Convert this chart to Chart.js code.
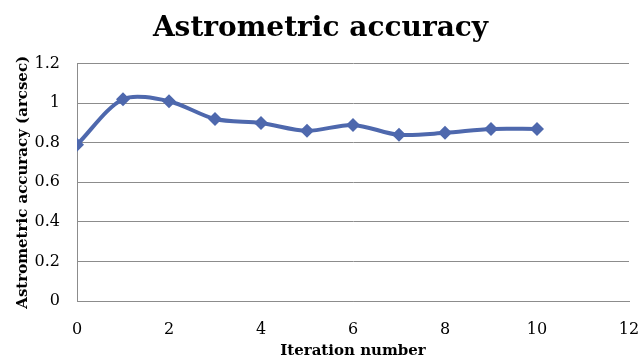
<!DOCTYPE html>
<html>
<head>
<meta charset="utf-8">
<script src="https://cdn.jsdelivr.net/npm/chart.js@4"></script>
<style>
  html, body { margin: 0; padding: 0; background: #fff; }
  #wrap { width: 641px; height: 360px; }
</style>
</head>
<body>
<div id="wrap"><canvas id="chart" width="641" height="360"></canvas></div>
<script>
// chart data
const iterations = [0, 1, 2, 3, 4, 5, 6, 7, 8, 9, 10];
const accuracy = [0.79, 1.02, 1.01, 0.92, 0.90, 0.86, 0.89, 0.84, 0.85, 0.87, 0.87];
const chartTitle = 'Astrometric accuracy';
const xTitle = 'Iteration number';
const yTitle = 'Astrometric accuracy (arcsec)';

const serif = '"DejaVu Serif", "Liberation Serif", serif';
const lineColor = '#4e68ad';
const gridColor = '#8c8c8c';

const ctx = document.getElementById('chart').getContext('2d');
new Chart(ctx, {
    type: 'scatter',
    data: {
        datasets: [{
            label: 'accuracy',
            data: iterations.map((x, i) => ({ x: x, y: accuracy[i] })),
            showLine: true,
            borderColor: lineColor,
            backgroundColor: lineColor,
            borderWidth: 4,
            tension: 0.3,
            pointStyle: 'rectRot',
            pointRadius: 7,
            pointHoverRadius: 7,
            pointBorderWidth: 0
        }]
    },
    options: {
        responsive: false,
        animation: false,
        layout: { padding: { left: 0, right: 0, top: 0, bottom: 0 } },
        plugins: {
            legend: { display: false },
            tooltip: { enabled: false },
            title: {
                display: true,
                text: chartTitle,
                color: '#000',
                font: { family: serif, size: 28, weight: 'bold' },
                padding: { top: 12, bottom: 18 }
            }
        },
        scales: {
            x: {
                type: 'linear',
                min: 0,
                max: 12,
                ticks: { stepSize: 2, color: '#000', padding: 19, font: { family: serif, size: 16 } },
                grid: { display: false, drawTicks: false },
                border: { display: true, color: gridColor, width: 1 },
                title: {
                    display: true,
                    text: xTitle,
                    color: '#000',
                    padding: { top: 0, bottom: 0 },
                    font: { family: serif, size: 15, weight: 'bold' }
                },
                afterFit: scale => {
                    scale.height = 59;
                    scale.paddingLeft = 0;
                    scale.paddingRight = 12;
                }
            },
            y: {
                min: 0,
                max: 1.2,
                ticks: {
                    stepSize: 0.2,
                    color: '#000',
                    padding: 17,
                    font: { family: serif, size: 16 },
                    callback: v => String(+v.toFixed(1))
                },
                grid: { color: gridColor, drawTicks: false },
                border: { display: true, color: gridColor, width: 1 },
                title: {
                    display: true,
                    text: yTitle,
                    color: '#000',
                    padding: { top: 14, bottom: 0 },
                    font: { family: serif, size: 15, weight: 'bold' }
                },
                afterFit: scale => { scale.width = 77; }
            }
        }
    }
});
</script>
</body>
</html>
